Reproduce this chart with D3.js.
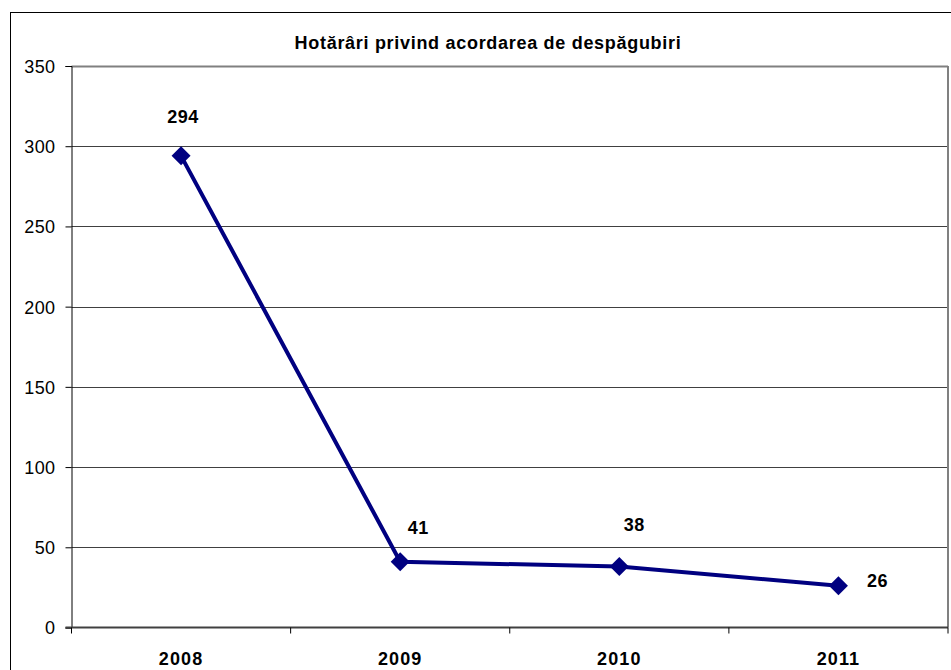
<!DOCTYPE html>
<html><head><meta charset="utf-8">
<script src="https://cdn.jsdelivr.net/npm/d3@7"></script>
<style>body{margin:0;background:#fff}svg{display:block;font-family:"Liberation Sans",Arial,sans-serif}</style>
</head><body><svg id="c" width="951" height="670"></svg>
<script>
const title = "Hotărâri privind acordarea de despăgubiri";
const categories = ["2008","2009","2010","2011"];
const values = [294, 41, 38, 26];
const yTicks = [0,50,100,150,200,250,300,350];
// label offsets (dx, dy) relative to point, as placed in the original
const labelDx = [2, 18, 15, 39];
const labelDy = [-33, -28, -36, 1];

const svg = d3.select("#c");
const L = 71.5, R = 948, T = 66, B = 627.5;
const FF = "Liberation Sans, Arial, sans-serif";
svg.append("rect").attr("x",10.5).attr("y",12.5).attr("width",960).attr("height",700)
  .attr("fill","#fff").attr("stroke","#000").attr("stroke-width",1);

const x = d3.scaleBand().domain(categories).range([L,R]);
const y = d3.scaleLinear().domain([0,350]).range([B,T]);

// gridlines
svg.append("g").selectAll("line").data(yTicks.filter(d=>d>0)).join("line")
  .attr("x1",L).attr("x2",R).attr("y1",d=>Math.round(y(d))+0.5).attr("y2",d=>Math.round(y(d))+0.5)
  .attr("stroke",d=>d===350?"#808080":"#404040").attr("stroke-width",d=>d===350?2:1);
// right border
svg.append("line").attr("x1",R).attr("x2",R).attr("y1",T).attr("y2",B).attr("stroke","#808080").attr("stroke-width",2);

// y axis
const ya = svg.append("g").attr("transform",`translate(${L},0)`)
  .call(d3.axisLeft(y).tickValues(yTicks).tickSize(6).tickPadding(10));
ya.select(".domain").attr("stroke","#000");
ya.selectAll("line").attr("stroke","#000");
ya.selectAll("text").attr("font-size",18).attr("letter-spacing",0.4).attr("fill","#000").attr("font-family",FF).attr("dy","0.36em");

// x axis
const xa = svg.append("g").attr("transform",`translate(0,${B})`)
  .call(d3.axisBottom(x).tickSize(0).tickPadding(0));
xa.select(".domain").remove();
xa.selectAll("text").attr("y",37.5).attr("dy",null).attr("font-size",18).attr("letter-spacing",1.1)
  .attr("font-weight","bold").attr("fill","#000").attr("font-family",FF);
svg.append("line").attr("x1",L-6).attr("x2",R).attr("y1",B).attr("y2",B).attr("stroke","#404040").attr("stroke-width",2);
const bounds = categories.map(c=>x(c)).concat([R]);
svg.append("g").selectAll("line").data(bounds).join("line")
  .attr("x1",d=>d).attr("x2",d=>d).attr("y1",B).attr("y2",B+6).attr("stroke","#000");

const cx = c => x(c)+x.bandwidth()/2;
// line
svg.append("path").datum(values)
  .attr("d", d3.line().x((d,i)=>cx(categories[i])).y(d=>y(d)))
  .attr("fill","none").attr("stroke","#000080").attr("stroke-width",4);
// markers
svg.append("g").selectAll("path").data(values).join("path")
  .attr("d", d3.symbol(d3.symbolSquare, 180)())
  .attr("transform",(d,i)=>`translate(${cx(categories[i])},${y(d)}) rotate(45)`)
  .attr("fill","#000080");
// labels
svg.append("g").selectAll("text").data(values).join("text")
  .attr("x",(d,i)=>cx(categories[i])+labelDx[i]).attr("y",(d,i)=>y(d)+labelDy[i])
  .attr("text-anchor","middle").attr("font-size",18).attr("letter-spacing",0.5).attr("font-weight","bold").text(d=>d);

// title
svg.append("text").attr("x",488).attr("y",49).attr("text-anchor","middle")
  .attr("font-size",18).attr("letter-spacing",0.7).attr("font-weight","bold").text(title);
</script></body></html>
